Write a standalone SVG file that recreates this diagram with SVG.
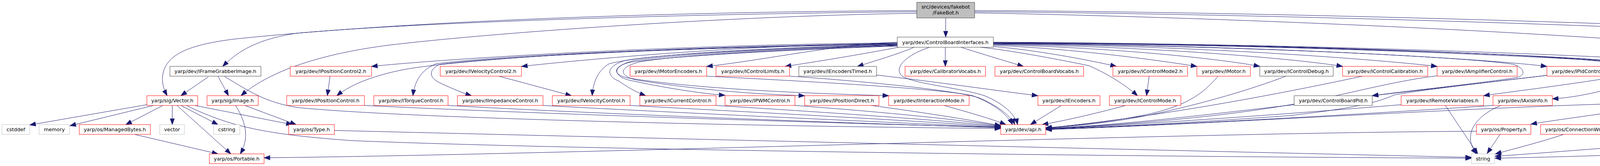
<svg xmlns="http://www.w3.org/2000/svg" width="5099" height="425" viewBox="0 0 5099 425">
<style>
rect{fill:#fff;stroke-width:1}
.r rect{stroke:#ff0000}
.k rect{stroke:#404040}
.g rect{stroke:#bfbfbf}
.f rect{fill:#bfbfbf;stroke:#404040}
text{font-family:"DejaVu Sans","Liberation Sans",sans-serif;font-size:12.8px;text-anchor:middle;fill:#000}
#edges path{fill:none;stroke:#191970;stroke-width:1;marker-end:url(#a)}
</style>
<defs>
<marker id="a" markerWidth="16" markerHeight="12" refX="15" refY="5.5" orient="auto" markerUnits="userSpaceOnUse" overflow="visible">
<path d="M0,0 L15,5.5 L0,11 z" fill="#191970" stroke="#191970" stroke-width="1"/>
</marker>
</defs>
<rect x="0" y="0" width="5099" height="425" style="fill:#fff;stroke:none"/>
<g id="edges">
<path d="M2421,46 L2421,95"/>
<path d="M2347,27 C1800,30 1100,48 600,100 C480,115 430,140 418,185 C412,210 420,230 428,245"/>
<path d="M2347,30 C1800,35 1100,55 760,85 C660,100 610,130 570,170"/>
<path d="M2347,34 C1900,40 1300,80 1000,115 C800,140 680,190 617,245"/>
<path d="M2495,27 C3200,30 4300,60 4910,96"/>
<path d="M2495,30 C3200,35 4200,65 4766,98"/>
<path d="M2495,33 C3200,45 4300,95 4680,150 C4735,165 4735,205 4680,218 C4600,240 4480,254 4414,255"/>
<path d="M2297,110 C1800,113 1200,145 951,170"/>
<path d="M2297,112 C1700,118 1200,150 1040,177 C960,192 900,215 862,245"/>
<path d="M2297,111 C1900,115 1500,152 1335,170"/>
<path d="M2297,113 C1800,120 1300,140 1117,163 C1080,178 1062,205 1057,245"/>
<path d="M2297,113 C1800,121 1300,142 1125,165 C1095,180 1098,200 1130,214 C1160,228 1185,238 1207,245"/>
<path d="M2297,114 C1950,122 1650,140 1560,163 C1530,180 1518,212 1516,245"/>
<path d="M2297,115 C1950,124 1680,140 1600,155 C1550,170 1552,195 1585,208 C1605,222 1628,236 1653,245"/>
<path d="M2297,116 C1950,126 1700,142 1620,156 C1565,170 1570,195 1610,205 C1700,225 1800,240 1856,244"/>
<path d="M2297,117 C1950,128 1720,144 1640,158 C1580,172 1585,195 1630,205 C1800,232 1950,242 2060,245"/>
<path d="M2297,118 C1950,130 1700,146 1610,160 C1565,172 1570,193 1610,200 C1800,230 2100,240 2275,245"/>
<path d="M2297,108 C2150,112 1950,155 1809,170"/>
<path d="M2300,121 C2200,140 2090,158 2010,170"/>
<path d="M2340,121 C2300,138 2240,156 2195,170"/>
<path d="M2420,121 L2420,170"/>
<path d="M2380,121 C2320,140 2285,175 2310,195 C2340,215 2460,225 2520,245 C2570,265 2600,295 2605,319"/>
<path d="M2460,121 C2520,140 2580,158 2620,170"/>
<path d="M2510,121 C2580,128 2700,150 2787,168 C2840,190 2890,225 2912,245"/>
<path d="M2543,119 C2650,128 2780,152 2858,170"/>
<path d="M2543,116 C2750,125 2950,152 3064,170"/>
<path d="M2543,114 C2900,124 3150,155 3225,170"/>
<path d="M2543,113 C3000,120 3350,155 3437,170"/>
<path d="M2543,112 C3100,117 3550,155 3679,170"/>
<path d="M2543,111 C3200,115 3800,150 3960,170"/>
<path d="M2543,110 C3300,112 4100,150 4303,170"/>
<path d="M2543,109 C3400,110 4300,150 4489,170"/>
<path d="M2543,110 C3300,114 4120,145 4190,163 C4245,182 4290,215 4312,245"/>
<path d="M2543,109 C3400,113 4080,148 4150,160 C4185,172 4185,207 4150,218 C4100,235 4030,250 3974,253"/>
<path d="M2543,108 C3300,111 4030,143 4115,160 C4148,172 4150,192 4130,198 C3980,222 3850,237 3798,245"/>
<path d="M2543,111 C3200,117 3780,148 3875,165 C3905,175 3905,193 3885,198 C3800,212 3600,233 3513,245"/>
<path d="M845,195 L838,245"/>
<path d="M1277,195 L1463,245"/>
<path d="M2942,195 L2935,245"/>
<path d="M2243,192 C2400,210 2550,232 2657,245"/>
<path d="M3960,193 C3800,212 3600,235 3513,245"/>
<path d="M4375,195 L4335,245"/>
<path d="M4553,195 L4373,245"/>
<path d="M533,197 L463,245"/>
<path d="M558,195 L585,245"/>
<path d="M575,196 C640,235 680,262 760,275 C1000,300 1800,322 2562,329"/>
<path d="M933,270 C1300,288 2000,312 2562,326"/>
<path d="M1147,270 C1500,290 2100,313 2562,327"/>
<path d="M1390,270 C1700,287 2200,310 2562,326"/>
<path d="M1613,270 C1900,286 2300,306 2562,325"/>
<path d="M1833,270 C2100,287 2400,306 2562,324"/>
<path d="M2035,270 C2250,286 2450,305 2562,323"/>
<path d="M2230,270 C2350,286 2480,306 2562,322"/>
<path d="M2417,270 C2470,285 2535,303 2575,319"/>
<path d="M1809,195 C2000,205 2400,225 2490,245 C2545,265 2580,295 2592,319"/>
<path d="M2021,195 C2200,207 2440,230 2505,250 C2555,270 2590,300 2598,319"/>
<path d="M2717,270 C2690,287 2660,305 2638,319"/>
<path d="M2882,270 C2800,292 2720,310 2668,319"/>
<path d="M3118,195 C3080,240 3040,268 2950,290 C2850,312 2750,322 2677,327"/>
<path d="M3292,195 C3200,230 3080,265 2950,293 C2850,314 2750,323 2677,328"/>
<path d="M3488,195 C3300,235 3000,295 2677,328"/>
<path d="M3313,268 C3100,292 2900,318 2677,329"/>
<path d="M3679,194 C3550,210 3420,250 3280,272 C3100,302 2850,322 2677,329"/>
<path d="M3960,193 C3800,212 3640,230 3570,243 C3530,260 3480,276 3300,296 C3000,318 2800,326 2677,330"/>
<path d="M3587,268 C3300,292 2900,320 2677,330"/>
<path d="M3822,270 C3500,292 3000,320 2677,331"/>
<path d="M4235,263 C3800,272 3100,318 2677,332"/>
<path d="M4312,270 L4263,319"/>
<path d="M4340,270 L4407,319"/>
<path d="M4370,270 L4563,319"/>
<path d="M4248,270 C4150,285 3960,310 3919,318"/>
<path d="M4278,270 C4200,290 4130,310 4097,319"/>
<path d="M3840,344 L3807,393"/>
<path d="M4003,344 C3950,362 3880,380 3828,394"/>
<path d="M4513,344 C4300,365 3950,392 3827,400"/>
<path d="M4825,121 C4810,260 4770,330 4720,348 C4600,385 4100,400 3827,405"/>
<path d="M3700,270 L3783,394"/>
<path d="M3842,270 C3770,300 3745,350 3780,394"/>
<path d="M3780,336 C3000,340 1500,395 676,404"/>
<path d="M856,334 C1500,350 3000,385 3767,403"/>
<path d="M477,270 C600,330 700,345 900,360 C1500,385 3000,402 3767,405"/>
<path d="M376,268 L76,320"/>
<path d="M393,270 L179,322"/>
<path d="M417,270 L322,319"/>
<path d="M441,270 L441,319"/>
<path d="M453,270 L591,394"/>
<path d="M463,270 L558,319"/>
<path d="M499,270 L748,319"/>
<path d="M627,270 L758,319"/>
<path d="M603,270 C635,320 635,360 615,394"/>
<path d="M344,344 L558,394"/>
</g>
<g id="n_fakebot" class="f"><rect x="2347" y="6" width="148" height="40"/><text x="2421" y="21.5">src/devices/fakebot</text><text x="2421" y="37">/FakeBot.h</text></g>
<g id="n_cbi" class="k"><rect x="2297" y="95" width="246" height="26"/><text x="2420" y="112.5">yarp/dev/ControlBoardInterfaces.h</text></g>
<g id="n_time" class="r"><rect x="4766" y="95" width="119" height="26"/><text x="4825.5" y="112.5">yarp/os/Time.h</text></g>
<g id="n_log" class="r"><rect x="4910" y="95" width="184" height="26"/><text x="5002" y="112.5">yarp/os/LogComponent.h</text></g>
<g id="n_fgi" class="k"><rect x="435" y="170" width="233" height="25"/><text x="551.5" y="187">yarp/dev/IFrameGrabberImage.h</text></g>
<g id="n_pc2" class="r"><rect x="743" y="170" width="208" height="25"/><text x="847" y="187">yarp/dev/IPositionControl2.h</text></g>
<g id="n_vc2" class="r"><rect x="1127" y="170" width="208" height="25"/><text x="1231" y="187">yarp/dev/IVelocityControl2.h</text></g>
<g id="n_me" class="r"><rect x="1613" y="170" width="196" height="25"/><text x="1711" y="187">yarp/dev/IMotorEncoders.h</text></g>
<g id="n_cl" class="r"><rect x="1833" y="170" width="188" height="25"/><text x="1927" y="187">yarp/dev/IControlLimits.h</text></g>
<g id="n_et" class="k"><rect x="2045" y="170" width="199" height="25"/><text x="2144.5" y="187">yarp/dev/IEncodersTimed.h</text></g>
<g id="n_calv" class="r"><rect x="2317" y="170" width="206" height="25"/><text x="2420" y="187">yarp/dev/CalibratorVocabs.h</text></g>
<g id="n_cbv" class="r"><rect x="2547" y="170" width="227" height="25"/><text x="2660.5" y="187">yarp/dev/ControlBoardVocabs.h</text></g>
<g id="n_cm2" class="r"><rect x="2849" y="170" width="191" height="25"/><text x="2944.5" y="187">yarp/dev/IControlMode2.h</text></g>
<g id="n_motor" class="r"><rect x="3064" y="170" width="137" height="25"/><text x="3132.5" y="187">yarp/dev/IMotor.h</text></g>
<g id="n_cd" class="k"><rect x="3225" y="170" width="188" height="25"/><text x="3319" y="187">yarp/dev/IControlDebug.h</text></g>
<g id="n_ccal" class="r"><rect x="3437" y="170" width="218" height="25"/><text x="3546" y="187">yarp/dev/IControlCalibration.h</text></g>
<g id="n_amp" class="r"><rect x="3679" y="170" width="205" height="25"/><text x="3781.5" y="187">yarp/dev/IAmplifierControl.h</text></g>
<g id="n_pid" class="r"><rect x="3960" y="170" width="167" height="25"/><text x="4043.5" y="187">yarp/dev/IPidControl.h</text></g>
<g id="n_cal" class="k"><rect x="4303" y="170" width="163" height="25"/><text x="4384.5" y="187">yarp/dev/ICalibrator.h</text></g>
<g id="n_rcal" class="k"><rect x="4489" y="170" width="214" height="25"/><text x="4596" y="187">yarp/dev/IRemoteCalibrator.h</text></g>
<g id="n_vector" class="r"><rect x="376" y="245" width="130" height="25"/><text x="441" y="262">yarp/sig/Vector.h</text></g>
<g id="n_image" class="r"><rect x="530" y="245" width="131" height="25"/><text x="595.5" y="262">yarp/sig/Image.h</text></g>
<g id="n_pc" class="r"><rect x="734" y="245" width="199" height="25"/><text x="833.5" y="262">yarp/dev/IPositionControl.h</text></g>
<g id="n_tc" class="r"><rect x="957" y="245" width="190" height="25"/><text x="1052" y="262">yarp/dev/ITorqueControl.h</text></g>
<g id="n_ic" class="r"><rect x="1171" y="245" width="219" height="25"/><text x="1280.5" y="262">yarp/dev/IImpedanceControl.h</text></g>
<g id="n_vc" class="r"><rect x="1414" y="245" width="199" height="25"/><text x="1513.5" y="262">yarp/dev/IVelocityControl.h</text></g>
<g id="n_cc" class="r"><rect x="1638" y="245" width="195" height="25"/><text x="1735.5" y="262">yarp/dev/ICurrentControl.h</text></g>
<g id="n_pwm" class="r"><rect x="1856" y="245" width="179" height="25"/><text x="1945.5" y="262">yarp/dev/IPWMControl.h</text></g>
<g id="n_pd" class="r"><rect x="2060" y="245" width="190" height="25"/><text x="2155" y="262">yarp/dev/IPositionDirect.h</text></g>
<g id="n_im" class="r"><rect x="2275" y="245" width="206" height="25"/><text x="2378" y="262">yarp/dev/IInteractionMode.h</text></g>
<g id="n_enc" class="r"><rect x="2657" y="245" width="159" height="25"/><text x="2736.5" y="262">yarp/dev/IEncoders.h</text></g>
<g id="n_cm" class="r"><rect x="2840" y="245" width="183" height="25"/><text x="2931.5" y="262">yarp/dev/IControlMode.h</text></g>
<g id="n_cbp" class="k"><rect x="3313" y="245" width="200" height="25"/><text x="3413" y="262">yarp/dev/ControlBoardPid.h</text></g>
<g id="n_rv" class="r"><rect x="3587" y="245" width="211" height="25"/><text x="3692.5" y="262">yarp/dev/IRemoteVariables.h</text></g>
<g id="n_axis" class="r"><rect x="3822" y="245" width="152" height="25"/><text x="3898" y="262">yarp/dev/IAxisInfo.h</text></g>
<g id="n_dd" class="k"><rect x="4235" y="245" width="179" height="25"/><text x="4324.5" y="262">yarp/dev/DeviceDriver.h</text></g>
<g id="n_cstddef" class="g"><rect x="5" y="319" width="71" height="25"/><text x="40.5" y="336">cstddef</text></g>
<g id="n_memory" class="g"><rect x="100" y="319" width="78" height="25"/><text x="139" y="336">memory</text></g>
<g id="n_mb" class="r"><rect x="203" y="319" width="182" height="25"/><text x="294" y="336">yarp/os/ManagedBytes.h</text></g>
<g id="n_vec" class="g"><rect x="409" y="319" width="63" height="25"/><text x="440.5" y="336">vector</text></g>
<g id="n_cstring" class="g"><rect x="547" y="319" width="67" height="25"/><text x="580.5" y="336">cstring</text></g>
<g id="n_type" class="r"><rect x="739" y="319" width="117" height="25"/><text x="797.5" y="336">yarp/os/Type.h</text></g>
<g id="n_api" class="r"><rect x="2562" y="319" width="115" height="25"/><text x="2619.5" y="336">yarp/dev/api.h</text></g>
<g id="n_prop" class="r"><rect x="3780" y="319" width="139" height="25"/><text x="3849.5" y="336">yarp/os/Property.h</text></g>
<g id="n_cw" class="r"><rect x="3944" y="319" width="198" height="25"/><text x="4043" y="336">yarp/os/ConnectionWriter.h</text></g>
<g id="n_bp" class="r"><rect x="4166" y="319" width="167" height="25"/><text x="4249.5" y="336">yarp/os/BufferedPort.h</text></g>
<g id="n_iconfig" class="r"><rect x="4358" y="319" width="130" height="25"/><text x="4423" y="336">yarp/os/IConfig.h</text></g>
<g id="n_cr" class="r"><rect x="4513" y="319" width="204" height="25"/><text x="4615" y="336">yarp/os/ConnectionReader.h</text></g>
<g id="n_portable" class="r"><rect x="536" y="394" width="140" height="25"/><text x="606" y="411">yarp/os/Portable.h</text></g>
<g id="n_string" class="g"><rect x="3767" y="394" width="59" height="25"/><text x="3796.5" y="411">string</text></g>
</svg>
